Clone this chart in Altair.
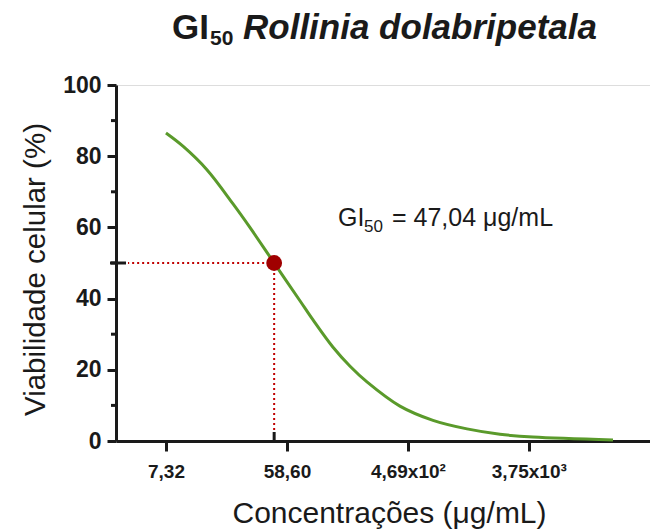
import altair as alt
import pandas as pd

# ---- data ----
conc = [7.32, 9.8, 14.8, 23.2, 31.0, 47.04, 73.3, 91.8, 129.0, 173.5, 232.0, 409.0,
        722.0, 1296.0, 2284.0, 4028.0, 15960.0]
viab = [86.5, 82.8, 76.2, 66.6, 60.0, 50.0, 39.4, 34.0, 26.4, 21.0, 16.6, 9.8,
        5.8, 3.4, 1.9, 1.1, 0.3]

gi50_conc = [47.04]
gi50_viab = [50.0]

x_tick_values = [7.32, 58.60, 469.0, 3750.0]
x_tick_labels = ["7,32", "58,60", "4,69x10²", "3,75x10³"]
y_tick_values = [0, 20, 40, 60, 80, 100]
y_minor_ticks = [10, 30, 50, 70, 90]
x_domain = [3.1, 30150]
y_domain = [0, 100]

title_parts = ["GI", "50", "Rollinia dolabripetala"]
annot_parts = ["GI", "50", "= 47,04 μg/mL"]

W, H = 534, 356
FONT = "Liberation Sans"

curve = pd.DataFrame({"conc": conc, "viab": viab})
gi = pd.DataFrame({"conc": gi50_conc, "viab": gi50_viab})
minor = pd.DataFrame({"v": y_minor_ticks})
one = pd.DataFrame({"k": [0]})

# label expression built from the tick lists
expr = "''"
for v, lab in reversed(list(zip(x_tick_values, x_tick_labels))):
    expr = f"datum.value <= {v * 1.01} ? '{lab}' : ({expr})"

xscale = alt.Scale(type="log", domain=x_domain, nice=False)
yscale = alt.Scale(domain=y_domain, nice=False)

xaxis = alt.Axis(values=x_tick_values, labelExpr=expr, grid=False,
                 domainColor="#1a1a1a", domainWidth=3, tickColor="#1a1a1a",
                 tickWidth=3, tickSize=10, labelFont=FONT, labelFontSize=19,
                 labelFontWeight="bold", labelColor="#1a1a1a", labelPadding=11,
                 title="Concentrações (μg/mL)", titleFont=FONT, titleFontSize=30,
                 titleFontWeight="normal", titleColor="#1a1a1a",
                 titleX=273, titleY=72, titleBaseline="middle", titleAlign="center")
yaxis = alt.Axis(values=y_tick_values, grid=False,
                 domainColor="#1a1a1a", domainWidth=3, tickColor="#1a1a1a",
                 tickWidth=3, tickSize=9, labelFont=FONT, labelFontSize=23,
                 labelFontWeight="bold", labelColor="#1a1a1a", labelPadding=6,
                 title="Viabilidade celular (%)", titleFont=FONT, titleFontSize=29.5,
                 titleFontWeight="normal", titleColor="#1a1a1a",
                 titleX=-81, titleY=184, titleAngle=270, titleBaseline="middle",
                 titleAlign="center")

base = alt.Chart(curve)

line = base.mark_line(color="#5a9a2b", strokeWidth=3, interpolate="catmull-rom").encode(
    x=alt.X("conc:Q", scale=xscale, axis=xaxis),
    y=alt.Y("viab:Q", scale=yscale, axis=yaxis),
)

minor_ticks = alt.Chart(minor).mark_rule(color="#1a1a1a", strokeWidth=3).encode(
    y=alt.Y("v:Q", scale=yscale), x=alt.value(-5), x2=alt.value(0)
)

hline = alt.Chart(gi).mark_rule(color="#c00000", strokeWidth=2, strokeDash=[2, 3]).encode(
    y=alt.Y("viab:Q", scale=yscale), x=alt.X("conc:Q", scale=xscale), x2=alt.value(12)
)
vline = alt.Chart(gi).mark_rule(color="#c00000", strokeWidth=2, strokeDash=[2, 3]).encode(
    x=alt.X("conc:Q", scale=xscale), y=alt.Y("viab:Q", scale=yscale), y2=alt.value(H - 9)
)
ytick50 = alt.Chart(gi).mark_rule(color="#1a1a1a", strokeWidth=3).encode(
    y=alt.Y("viab:Q", scale=yscale), x=alt.value(-6), x2=alt.value(10)
)
xtick50 = alt.Chart(gi).mark_rule(color="#1a1a1a", strokeWidth=3).encode(
    x=alt.X("conc:Q", scale=xscale), y=alt.value(H - 9), y2=alt.value(H)
)
dot = alt.Chart(gi).mark_circle(color="#a00000", opacity=1, size=250).encode(
    x=alt.X("conc:Q", scale=xscale), y=alt.Y("viab:Q", scale=yscale)
)


def txt(text, x, y, size, weight="normal", style="normal"):
    return alt.Chart(one).mark_text(
        align="left", baseline="alphabetic",
        font=FONT, fontSize=size, fontWeight=weight, fontStyle=style,
        color="#1a1a1a",
    ).encode(x=alt.value(x), y=alt.value(y), text=alt.value(text))


title_layers = [
    txt(title_parts[0], 56, -46, 35, "bold"),
    txt(title_parts[1], 94, -40, 21, "bold"),
    txt(title_parts[2], 127, -46, 35, "bold", "italic"),
]
annot_layers = [
    txt(annot_parts[0], 222, 141, 25),
    txt(annot_parts[1], 248, 147, 17),
    txt(annot_parts[2], 276, 141, 25),
]

chart = alt.layer(
    vline, hline, line, minor_ticks, ytick50, xtick50, dot,
    *title_layers, *annot_layers
).properties(
    width=W, height=H,
    autosize=alt.AutoSizeParams(type="none"),
    padding={"left": 116, "top": 85, "right": 0, "bottom": 90},
).configure_view(stroke=None).configure(background="white")

chart.save("out.html", embed_options={"renderer": "svg", "actions": False})
